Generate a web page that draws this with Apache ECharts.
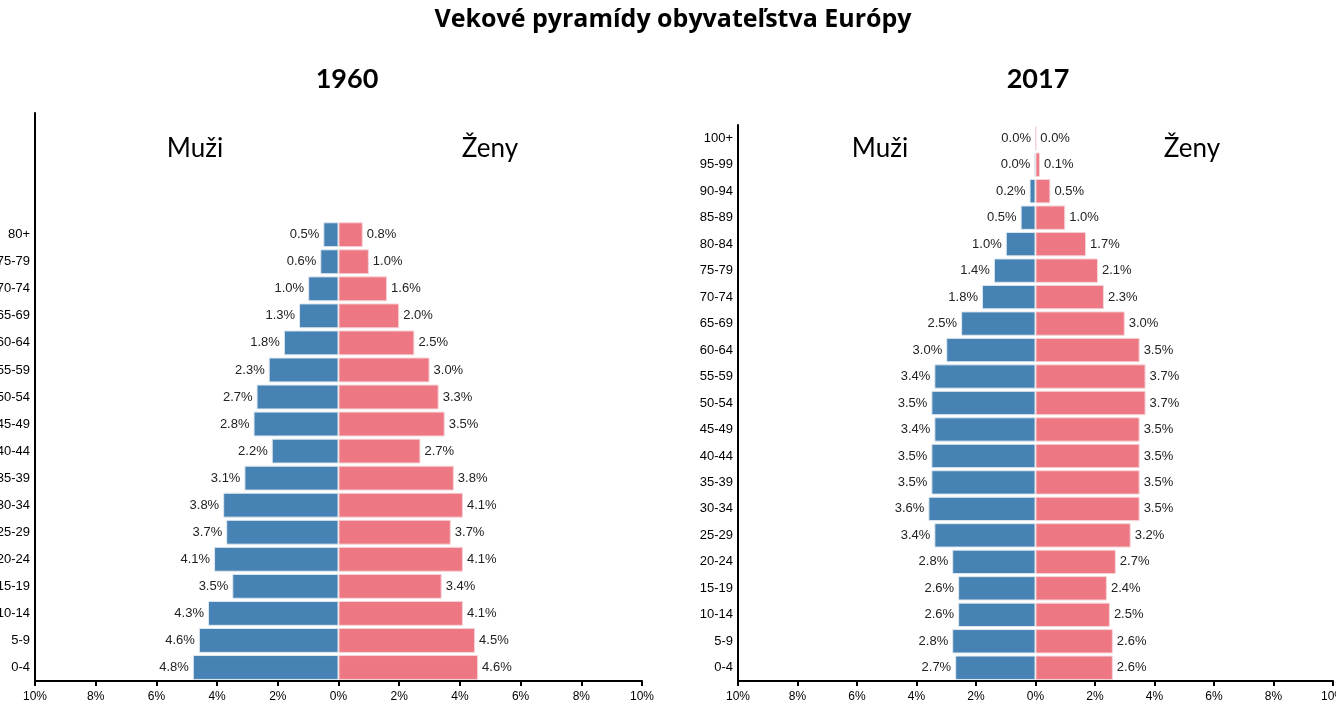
<!DOCTYPE html>
<html>
<head>
  <meta charset="utf-8">
  <title>Vekové pyramídy obyvateľstva Európy</title>
  <script src="https://cdn.jsdelivr.net/npm/echarts@6/dist/echarts.min.js"></script>
  <style>
    html, body { margin: 0; padding: 0; background: #fff; }
    #chart { width: 1336px; height: 721px; }
  </style>
</head>
<body>
  <div id="chart"></div>
<script>
  // age groups, bottom to top
  var ages1960 = ['0-4', '5-9', '10-14', '15-19', '20-24', '25-29', '30-34', '35-39', '40-44',
    '45-49', '50-54', '55-59', '60-64', '65-69', '70-74', '75-79', '80+'];
  var ages2017 = ['0-4', '5-9', '10-14', '15-19', '20-24', '25-29', '30-34', '35-39', '40-44',
    '45-49', '50-54', '55-59', '60-64', '65-69', '70-74', '75-79', '80-84', '85-89', '90-94',
    '95-99', '100+'];

  // share of population, %
  var men1960 = [4.8, 4.6, 4.3, 3.5, 4.1, 3.7, 3.8, 3.1, 2.2, 2.8, 2.7, 2.3, 1.8, 1.3, 1.0, 0.6, 0.5];
  var women1960 = [4.6, 4.5, 4.1, 3.4, 4.1, 3.7, 4.1, 3.8, 2.7, 3.5, 3.3, 3.0, 2.5, 2.0, 1.6, 1.0, 0.8];
  var men2017 = [2.7, 2.8, 2.6, 2.6, 2.8, 3.4, 3.6, 3.5, 3.5, 3.4, 3.5, 3.4, 3.0, 2.5, 1.8, 1.4, 1.0, 0.5, 0.2, 0.04, 0.0];
  var women2017 = [2.6, 2.6, 2.5, 2.4, 2.7, 3.2, 3.5, 3.5, 3.5, 3.5, 3.7, 3.7, 3.5, 3.0, 2.3, 2.1, 1.7, 1.0, 0.5, 0.15, 0.02];

  var BLUE = '#4682b4';
  var PINK = '#ed7884';
  var SLOTS = 21; // both pyramids use the same number of rows
  var FONT = 'Liberation Sans';

  var chart = echarts.init(document.getElementById('chart'));

  function pad(list) {
    var out = list.slice();
    while (out.length < SLOTS) out.push('');
    return out;
  }

  function pct(p) {
    return Math.abs(p.value).toFixed(1) + '%';
  }

  function xAxis(idx) {
    return {
      type: 'value', gridIndex: idx, min: -10, max: 10, interval: 2,
      axisLine: { show: true, lineStyle: { color: '#000', width: 2 } },
      axisTick: { show: true, length: 5, lineStyle: { color: '#000', width: 2 } },
      splitLine: { show: false },
      axisLabel: {
        color: '#000', fontFamily: FONT, fontSize: 12, margin: 10,
        formatter: function (v) { return Math.abs(v) + '%'; }
      }
    };
  }

  function yAxis(idx, cats) {
    return {
      type: 'category', gridIndex: idx, data: pad(cats),
      axisLine: { show: true, onZero: false, lineStyle: { color: '#000', width: 2 } },
      axisTick: { show: false },
      axisLabel: { color: '#000', fontFamily: FONT, fontSize: 13, margin: 5 }
    };
  }

  function bars(idx, men, women) {
    var lbl = { show: true, color: '#222', fontFamily: FONT, fontSize: 13, distance: 4, formatter: pct };
    return [{
      type: 'bar', xAxisIndex: idx, yAxisIndex: idx, barGap: '-100%', barCategoryGap: '8%',
      data: men.map(function (v) { return -v; }),
      itemStyle: { color: BLUE, borderColor: '#dfe8f0', borderWidth: 1 },
      label: Object.assign({ position: 'left' }, lbl)
    }, {
      type: 'bar', xAxisIndex: idx, yAxisIndex: idx, barGap: '-100%', barCategoryGap: '8%',
      data: women,
      itemStyle: { color: PINK, borderColor: '#f6d4d8', borderWidth: 1 },
      label: Object.assign({ position: 'right' }, lbl)
    }];
  }

  function heading(text, x, y, size, weight, family) {
    return {
      text: text, left: x, top: y, textAlign: 'center', padding: 0,
      textStyle: { fontFamily: family || 'Lato', fontSize: size, fontWeight: weight, color: '#000' }
    };
  }

  chart.setOption({
    animation: false,
    title: [
      heading('Vekové pyramídy obyvateľstva Európy', 673, 7, 25, 'bold', 'Open Sans'),
      heading('1960', 347, 66, 27, 'bold'),
      heading('2017', 1038, 66, 27, 'bold'),
      heading('Muži', 195, 136, 26, 'normal'),
      heading('Ženy', 490, 136, 26, 'normal'),
      heading('Muži', 880, 136, 26, 'normal'),
      heading('Ženy', 1192, 136, 26, 'normal')
    ],
    grid: [
      { left: 35, right: 694, top: 113, bottom: 40, outerBoundsMode: 'none' },
      { left: 738, right: 3, top: 125, bottom: 40, outerBoundsMode: 'none' }
    ],
    xAxis: [xAxis(0), xAxis(1)],
    yAxis: [yAxis(0, ages1960), yAxis(1, ages2017)],
    series: bars(0, men1960, women1960).concat(bars(1, men2017, women2017))
  });
</script>
</body>
</html>
